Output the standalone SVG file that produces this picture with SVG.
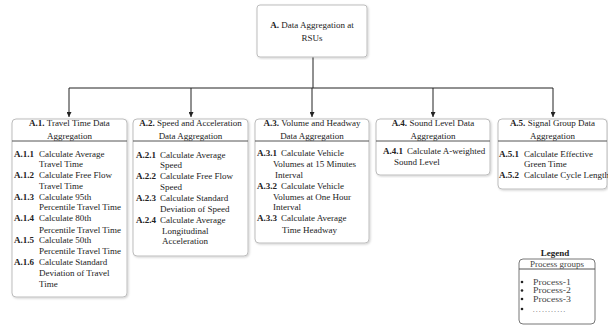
<svg xmlns="http://www.w3.org/2000/svg" width="608" height="326" viewBox="0 0 608 326">
<defs>
<marker id="arr" viewBox="0 0 8 8" refX="8" refY="4" markerWidth="5" markerHeight="5" orient="auto" markerUnits="userSpaceOnUse">
<path d="M0,0 L8,4 L0,8 z" fill="#222"/>
</marker>
<filter id="sh" x="-5%" y="-5%" width="110%" height="110%">
<feDropShadow dx="1" dy="1" stdDeviation="0.8" flood-color="#000" flood-opacity="0.18"/>
</filter>
</defs>
<style>
text{font-family:"Liberation Serif","Times New Roman",serif;font-size:9px;fill:#222}
.b{font-weight:bold}
.box{fill:#fff;stroke:#bdbdbd;stroke-width:1;filter:url(#sh)}
.div{stroke:#555;stroke-width:1}
.con{fill:none;stroke:#222;stroke-width:1}
.hd{text-anchor:middle}
.lg{fill:#444}
.li{font-size:7.5px;fill:#444}
</style>
<rect width="608" height="326" fill="#fff"/>
<g id="connectors">
<path class="con" d="M313,57 V88"/>
<path class="con" d="M69,88 H553"/>
<path class="con" d="M69,88 V117" marker-end="url(#arr)"/>
<path class="con" d="M191,88 V117" marker-end="url(#arr)"/>
<path class="con" d="M312,88 V117" marker-end="url(#arr)"/>
<path class="con" d="M433,88 V117" marker-end="url(#arr)"/>
<path class="con" d="M553,88 V117" marker-end="url(#arr)"/>
</g>
<g id="A">
<rect class="box" x="257" y="5" width="110" height="52" rx="3"/>
<text class="hd" x="312" y="28"><tspan class="b">A.</tspan> Data Aggregation at</text>
<text class="hd" x="312" y="41">RSUs</text>
</g>
<g id="A1">
<rect class="box" x="12" y="119" width="115" height="178" rx="4"/>
<line class="div" x1="12" y1="141" x2="127" y2="141"/>
<text class="hd" x="69.5" y="126"><tspan class="b">A.1.</tspan> Travel Time Data</text>
<text class="hd" x="69.5" y="139">Aggregation</text>
<text x="14" y="157"><tspan class="b">A.1.1</tspan><tspan x="39">Calculate Average</tspan></text>
<text x="39" y="167">Travel Time</text>
<text x="14" y="178"><tspan class="b">A.1.2</tspan><tspan x="39">Calculate Free Flow</tspan></text>
<text x="39" y="189">Travel Time</text>
<text x="14" y="200"><tspan class="b">A.1.3</tspan><tspan x="39">Calculate 95th</tspan></text>
<text x="39" y="210">Percentile Travel Time</text>
<text x="14" y="221"><tspan class="b">A.1.4</tspan><tspan x="39">Calculate 80th</tspan></text>
<text x="39" y="233">Percentile Travel Time</text>
<text x="14" y="243"><tspan class="b">A.1.5</tspan><tspan x="39">Calculate 50th</tspan></text>
<text x="39" y="254">Percentile Travel Time</text>
<text x="14" y="265"><tspan class="b">A.1.6</tspan><tspan x="39">Calculate Standard</tspan></text>
<text x="39" y="276">Deviation of Travel</text>
<text x="39" y="287">Time</text>
</g>
<g id="A2">
<rect class="box" x="133" y="119" width="115" height="137" rx="4"/>
<line class="div" x1="133" y1="141" x2="248" y2="141"/>
<text class="hd" x="190.5" y="126"><tspan class="b">A.2.</tspan> Speed and Acceleration</text>
<text class="hd" x="190.5" y="139">Data Aggregation</text>
<text x="136" y="158"><tspan class="b">A.2.1</tspan><tspan x="160">Calculate Average</tspan></text>
<text x="160" y="168">Speed</text>
<text x="136" y="179"><tspan class="b">A.2.2</tspan><tspan x="160">Calculate Free Flow</tspan></text>
<text x="160" y="190">Speed</text>
<text x="136" y="201"><tspan class="b">A.2.3</tspan><tspan x="160">Calculate Standard</tspan></text>
<text x="160" y="212">Deviation of Speed</text>
<text x="136" y="223"><tspan class="b">A.2.4</tspan><tspan x="160">Calculate Average</tspan></text>
<text x="162" y="234">Longitudinal</text>
<text x="162" y="244">Acceleration</text>
</g>
<g id="A3">
<rect class="box" x="255" y="119" width="114" height="124" rx="4"/>
<line class="div" x1="255" y1="141" x2="369" y2="141"/>
<text class="hd" x="312" y="126"><tspan class="b">A.3.</tspan> Volume and Headway</text>
<text class="hd" x="312" y="139">Data Aggregation</text>
<text x="257" y="156"><tspan class="b">A.3.1</tspan><tspan x="281">Calculate Vehicle</tspan></text>
<text x="273" y="167">Volumes at 15 Minutes</text>
<text x="275" y="178">Interval</text>
<text x="257" y="189"><tspan class="b">A.3.2</tspan><tspan x="281">Calculate Vehicle</tspan></text>
<text x="273" y="200">Volumes at One Hour</text>
<text x="273" y="210">Interval</text>
<text x="257" y="221"><tspan class="b">A.3.3</tspan><tspan x="281">Calculate Average</tspan></text>
<text x="282" y="233">Time Headway</text>
</g>
<g id="A4">
<rect class="box" x="376" y="119" width="114" height="56" rx="4"/>
<line class="div" x1="376" y1="141" x2="490" y2="141"/>
<text class="hd" x="433" y="126"><tspan class="b">A.4.</tspan> Sound Level Data</text>
<text class="hd" x="433" y="139">Aggregation</text>
<text x="383" y="154"><tspan class="b">A.4.1</tspan><tspan x="407">Calculate A-weighted</tspan></text>
<text x="394" y="165">Sound Level</text>
</g>
<g id="A5">
<rect class="box" x="498" y="119" width="109" height="70" rx="4"/>
<line class="div" x1="498" y1="141" x2="607" y2="141"/>
<text class="hd" x="552.5" y="126"><tspan class="b">A.5.</tspan> Signal Group Data</text>
<text class="hd" x="552.5" y="139">Aggregation</text>
<text x="499" y="157"><tspan class="b">A.5.1</tspan><tspan x="524">Calculate Effective</tspan></text>
<text x="524" y="167">Green Time</text>
<text x="499" y="178"><tspan class="b">A.5.2</tspan><tspan x="524">Calculate Cycle Length</tspan></text>
</g>
<g id="legend">
<text class="hd b" x="555" y="256">Legend</text>
<rect x="519" y="259" width="76" height="65" rx="4" fill="#fff" stroke="#777"/>
<line x1="519" y1="269" x2="595" y2="269" stroke="#555"/>
<text class="hd lg" x="557" y="267">Process groups</text>
<circle cx="522" cy="282" r="1.3" fill="#222"/>
<circle cx="522" cy="290.5" r="1.3" fill="#222"/>
<circle cx="522" cy="299" r="1.3" fill="#222"/>
<circle cx="522" cy="309" r="1.3" fill="#222"/>
<text class="li" x="533" y="284.5" textLength="38" lengthAdjust="spacingAndGlyphs">Process-1</text>
<text class="li" x="533" y="293" textLength="38" lengthAdjust="spacingAndGlyphs">Process-2</text>
<text class="li" x="533" y="301.5" textLength="38" lengthAdjust="spacingAndGlyphs">Process-3</text>
<text class="li" x="533" y="312" style="font-size:6px" textLength="32">...........</text>
</g>
</svg>
